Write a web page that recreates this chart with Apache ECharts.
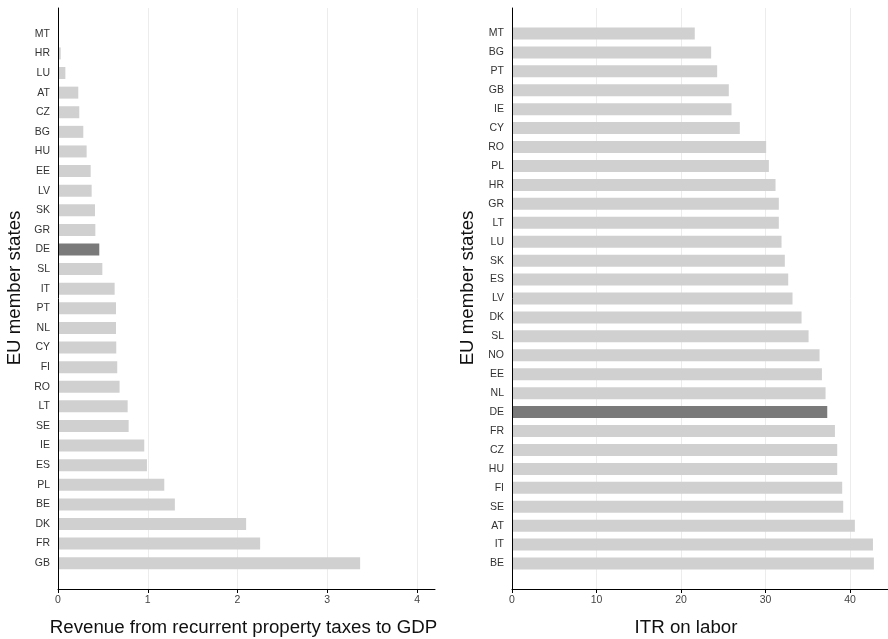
<!DOCTYPE html>
<html>
<head>
<meta charset="utf-8">
<script src="https://cdn.jsdelivr.net/npm/echarts@6/dist/echarts.min.js"></script>
<style>
html,body{margin:0;padding:0;background:#fff;}
#chart{width:888px;height:639px;}
</style>
</head>
<body>
<div id="chart"></div>
<script>
// Left panel: recurrent property taxes (% of GDP)
const propCategories = ['MT','HR','LU','AT','CZ','BG','HU','EE','LV','SK','GR','DE','SL','IT','PT','NL','CY','FI','RO','LT','SE','IE','ES','PL','BE','DK','FR','GB'];
const propValues = [0.0,0.03,0.082,0.226,0.237,0.282,0.319,0.364,0.375,0.412,0.416,0.46,0.494,0.631,0.646,0.646,0.649,0.66,0.686,0.776,0.787,0.961,0.991,1.184,1.302,2.096,2.252,3.366];
const propTicks = [0,1,2,3,4];

// Right panel: implicit tax rate on labor
const itrCategories = ['MT','BG','PT','GB','IE','CY','RO','PL','HR','GR','LT','LU','SK','ES','LV','DK','SL','NO','EE','NL','DE','FR','CZ','HU','FI','SE','AT','IT','BE'];
const itrValues = [21.63,23.57,24.28,25.66,25.98,26.96,30.08,30.4,31.19,31.58,31.58,31.9,32.29,32.69,33.2,34.27,35.1,36.4,36.68,37.11,37.31,38.22,38.49,38.49,39.08,39.2,40.58,42.72,42.83];
const itrTicks = [0,10,20,30,40];

const highlight = 'DE';
const xTitleLeft = 'Revenue from recurrent property taxes to GDP';
const xTitleRight = 'ITR on labor';
const yTitle = 'EU member states';

const FONT = 'Liberation Sans, Arial, sans-serif';
const BAR = '#d0d0d0', BAR_HI = '#7a7a7a';
const TITLE_FONT = '18.7px ' + FONT;

function toData(cats, vals){
  return vals.map((v,i)=> cats[i]===highlight ? {value:v, itemStyle:{color:BAR_HI}} : v);
}

const chart = echarts.init(document.getElementById('chart'), null, {renderer:'canvas'});

function outerX(gridIndex, max, ticks){
  return {
    type:'value', gridIndex, min:0, max, z:0,
    axisLine:{show:true, onZero:false, lineStyle:{color:'#000', width:1}},
    axisTick:{show:true, length:4, customValues:ticks, lineStyle:{color:'#000'}},
    axisLabel:{show:true, customValues:ticks, fontFamily:FONT, fontSize:10.5, color:'#444', margin:6},
    splitLine:{show:true, lineStyle:{color:'#ececec', width:1}}
  };
}
function innerX(gridIndex, max){
  return {type:'value', gridIndex, min:0, max, show:false, splitLine:{show:false}};
}
function outerY(gridIndex){
  return {type:'value', gridIndex, min:0, max:1, z:5,
    axisLine:{show:true, lineStyle:{color:'#000', width:1}},
    axisTick:{show:false}, axisLabel:{show:false}, splitLine:{show:false}};
}
function innerY(gridIndex, cats){
  return {type:'category', gridIndex, data:cats, inverse:true,
    axisLine:{show:false}, axisTick:{show:false},
    axisLabel:{fontFamily:FONT, fontSize:10.5, color:'#333', margin:8},
    splitLine:{show:false}};
}

const option = {
  animation:false,
  backgroundColor:'#fff',
  grid:[
    {left:58, right:453, top:8, bottom:50},
    {left:58, right:453, top:24, bottom:66},
    {left:512, right:0, top:8, bottom:50},
    {left:512, right:0, top:24, bottom:66}
  ],
  xAxis:[
    outerX(0, 4.2, propTicks),
    innerX(1, 4.2),
    outerX(2, 44.5, itrTicks),
    innerX(3, 44.5)
  ],
  yAxis:[
    outerY(0),
    innerY(1, propCategories),
    outerY(2),
    innerY(3, itrCategories)
  ],
  series:[
    {type:'bar', xAxisIndex:1, yAxisIndex:1, data:toData(propCategories, propValues), barWidth:12, itemStyle:{color:BAR}, silent:true, z:2},
    {type:'bar', xAxisIndex:3, yAxisIndex:3, data:toData(itrCategories, itrValues), barWidth:12, itemStyle:{color:BAR}, silent:true, z:2}
  ],
  graphic:[
    {type:'text', x:243.5, y:628, style:{text:xTitleLeft, font:TITLE_FONT, fill:'#111', textAlign:'center', textVerticalAlign:'middle'}},
    {type:'text', x:686, y:628, style:{text:xTitleRight, font:TITLE_FONT, fill:'#111', textAlign:'center', textVerticalAlign:'middle'}},
    {type:'text', x:15, y:288, rotation:Math.PI/2, style:{text:yTitle, font:TITLE_FONT, fill:'#111', textAlign:'center', textVerticalAlign:'middle'}},
    {type:'text', x:468, y:288, rotation:Math.PI/2, style:{text:yTitle, font:TITLE_FONT, fill:'#111', textAlign:'center', textVerticalAlign:'middle'}}
  ]
};
chart.setOption(option);
</script>
</body>
</html>
